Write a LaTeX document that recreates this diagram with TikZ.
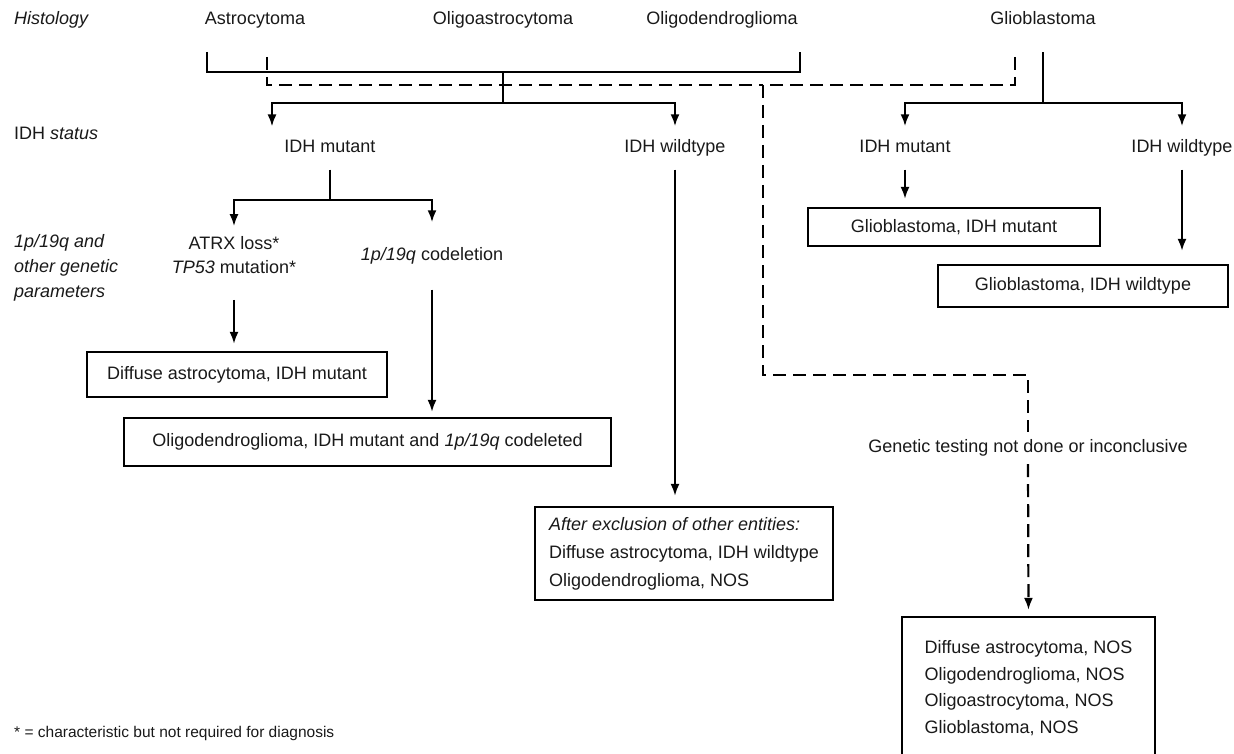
\documentclass[tikz,border=0pt]{standalone}
\usepackage{fontspec}
\setmainfont{Liberation Sans}
\usetikzlibrary{arrows.meta}
\tikzset{
  txt/.style={font=\fontsize{18}{25}\selectfont,text=black!90,inner sep=0pt},
  itxt/.style={txt,font=\fontsize{18}{25}\selectfont\itshape},
  hst/.style={txt,text height=13pt,text depth=4pt},
  lvl/.style={hst,inner ysep=13pt},
  res/.style={txt,draw=black,line width=2.2pt,align=center},
  ln/.style={line width=2.2pt},
  dsh/.style={ln,dash pattern=on 13pt off 7pt},
  arr/.style={ln,-{Latex[length=12pt,width=9pt]}},
}
\begin{document}
\begin{tikzpicture}[x=1pt,y=-1pt]
  \useasboundingbox (0,0) rectangle (1234,754);
  % row labels
  \node[itxt,anchor=west,text height=13pt,text depth=4pt] (histology) at (14,20) {Histology};
  \node[txt,anchor=west] (idhstatus) at (14,133) {IDH \textit{status}};
  \node[itxt,anchor=west,align=left] (params) at (14,268) {1p/19q and\\other genetic\\parameters};
  \node[txt,anchor=west,font=\fontsize{15.5}{18}\selectfont] (footnote) at (14,733) {* = characteristic but not required for diagnosis};
  % histology
  \node[hst] (astro) at (255,20) {Astrocytoma};
  \node[hst] (oligoastro) at (503,20) {Oligoastrocytoma};
  \node[hst] (oligodendro) at (722,20) {Oligodendroglioma};
  \node[hst] (gbm) at (1043,20) {Glioblastoma};
  % IDH status
  \node[lvl] (idhmut) at (330,148) {IDH mutant};
  \node[lvl] (idhwt) at (675,148) {IDH wildtype};
  \node[lvl] (gidhmut) at (905,148) {IDH mutant};
  \node[lvl] (gidhwt) at (1182,148) {IDH wildtype};
  % genetic parameters
  \node[txt,align=center,font=\fontsize{18}{24}\selectfont,inner ysep=10pt] (atrx) at (234,255) {ATRX loss*\\\textit{TP53} mutation*};
  \node[hst,inner ysep=25pt] (codel) at (432,256) {\textit{1p/19q} codeletion};
  \node[hst,inner ysep=7.5pt] (gentest) at (1028,448) {Genetic testing not done or inconclusive};
  % diagnoses
  \node[res,minimum width=300pt,minimum height=45pt] (diffbox) at (237,374.5) {Diffuse astrocytoma, IDH mutant};
  \node[res,minimum width=487pt,minimum height=48pt] (oligobox) at (367.5,442) {Oligodendroglioma, IDH mutant and \textit{1p/19q} codeleted};
  \node[res,minimum width=298pt,minimum height=93pt,align=left,font=\fontsize{18}{28}\selectfont] (wtbox) at (684,553.5) {\textit{After exclusion of other entities:}\\Diffuse astrocytoma, IDH wildtype\\Oligodendroglioma, NOS};
  \node[res,minimum width=292pt,minimum height=38pt] (gmutbox) at (954,227) {Glioblastoma, IDH mutant};
  \node[res,minimum width=290pt,minimum height=42pt] (gwtbox) at (1083,286) {Glioblastoma, IDH wildtype};
  \node[res,minimum width=253pt,minimum height=142pt,align=left,font=\fontsize{18}{26.5}\selectfont] (nosbox) at (1028.5,688) {Diffuse astrocytoma, NOS\\Oligodendroglioma, NOS\\Oligoastrocytoma, NOS\\Glioblastoma, NOS};
  % junctions
  \coordinate (hl) at (207,52);
  \coordinate (hr) at (800,52);
  \coordinate (j1) at (503,103);
  \coordinate (t1) at (272,126.5);
  \coordinate (j2) at (1043,103);
  \coordinate (j3) at (330,200);
  \coordinate (dl) at (267,57);
  \coordinate (dr) at (1015,57);
  \coordinate (dd) at (763,85);
  \coordinate (dk) at (763,375);
  % solid connectors
  \draw[ln] (hl) -- ++(0,20) -| (hr);
  \draw[ln] (j1) -- ++(0,-31);
  \draw[arr] (j1) -| (t1);
  \draw[arr] (j1) -| (idhwt.north);
  \draw[ln] (j2) -- ++(0,-51);
  \draw[arr] (j2) -| (gidhmut.north);
  \draw[arr] (j2) -| (gidhwt.north);
  \draw[ln] (idhmut.south) -- (j3);
  \draw[arr] (j3) -| (atrx.north);
  \draw[arr] (j3) -| (codel.north);
  \draw[arr,shorten <=16pt,shorten >=7pt] (atrx.south) -- (atrx.south |- diffbox.north);
  \draw[arr,shorten >=5pt] (codel.south) -- (codel.south |- oligobox.north);
  \draw[arr,shorten >=10pt] (idhwt.south) -- (idhwt.south |- wtbox.north);
  \draw[arr,shorten >=8pt] (gidhmut.south) -- (gidhmut.south |- gmutbox.north);
  \draw[arr,shorten >=13pt] (gidhwt.south) -- (gidhwt.south |- gwtbox.north);
  % dashed connectors
  \draw[dsh] (dl) |- (dd);
  \draw[dsh] (dr) |- (dd);
  \draw[dsh] (dd) -- (dk) -| (gentest.north);
  \draw[dsh,arr,shorten >=6pt] (gentest.south) -- (nosbox.north);
\end{tikzpicture}
\end{document}
